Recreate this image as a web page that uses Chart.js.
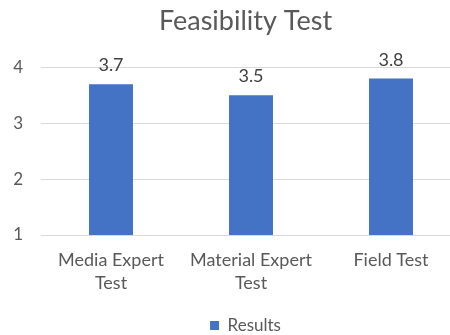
<!DOCTYPE html>
<html lang="en">
<head>
    <meta charset="UTF-8">
    <script src="https://cdn.jsdelivr.net/npm/chart.js@4"></script>
    <title>Feasibility Test</title>
    <style>
        body { margin: 0; background: #fff; }
    </style>
</head>
<body>
    <canvas id="chart" width="450" height="335"></canvas>

    <script>
        // chart data
        const categories = [['Media Expert', 'Test'], ['Material Expert', 'Test'], 'Field Test'];
        const results = [3.7, 3.5, 3.8];
        const yTicks = [1, 2, 3, 4];

        const FONT = "Lato, sans-serif";

        // draws the value above each bar
        const valueLabels = {
            id: 'valueLabels',
            afterDatasetsDraw(chart) {
                const ctx = chart.ctx;
                ctx.save();
                ctx.font = '18px ' + FONT;
                ctx.fillStyle = '#404040';
                ctx.textAlign = 'center';
                ctx.textBaseline = 'alphabetic';
                chart.getDatasetMeta(0).data.forEach((bar, i) => {
                    ctx.fillText(results[i].toFixed(1), bar.x, bar.y - 13);
                });
                ctx.restore();
            }
        };

        // the original picture is cropped: plot runs past the right edge,
        // legend sits right on the bottom edge
        const cropFix = {
            id: 'cropFix',
            afterLayout(chart) {
                const x = chart.scales.x;
                x.right += 11;
                x.width += 11;
                x.configure();
                if (chart.legend) {
                    chart.legend.top += 9;
                    chart.legend.bottom += 9;
                }
            }
        };

        new Chart(document.getElementById('chart'), {
            type: 'bar',
            data: {
                labels: categories,
                datasets: [{
                    label: 'Results',
                    data: results,
                    backgroundColor: '#4472C4',
                    barPercentage: 0.628,
                    categoryPercentage: 0.5
                }]
            },
            options: {
                responsive: false,
                animation: false,
                layout: { padding: { left: 0, right: 0, top: 0, bottom: 0 } },
                plugins: {
                    title: {
                        display: true,
                        fullSize: false,
                        text: 'Feasibility Test',
                        color: '#595959',
                        font: { family: FONT, size: 27, weight: 'normal', lineHeight: 1.2 },
                        padding: { top: 5, bottom: 30 }
                    },
                    legend: {
                        position: 'bottom',
                        fullSize: false,
                        labels: {
                            color: '#595959',
                            font: { family: FONT, size: 17 },
                            boxWidth: 9,
                            boxHeight: 9,
                            padding: 0
                        }
                    },
                    tooltip: { enabled: false }
                },
                scales: {
                    x: {
                        afterFit(scale) {
                            scale.height += 8;
                        },
                        grid: { display: false },
                        border: { display: false },
                        ticks: {
                            color: '#595959',
                            font: { family: FONT, size: 18, lineHeight: 1.25 },
                            padding: 6,
                            maxRotation: 0
                        }
                    },
                    y: {
                        min: 1,
                        max: 4,
                        afterBuildTicks(scale) {
                            scale.ticks = yTicks.map(v => ({ value: v }));
                        },
                        afterFit(scale) {
                            scale.width = 41;
                        },
                        grid: { color: '#D9D9D9', drawTicks: false },
                        border: { display: false },
                        ticks: {
                            color: '#595959',
                            font: { family: FONT, size: 17 },
                            padding: 18
                        }
                    }
                }
            },
            plugins: [valueLabels, cropFix]
        });
    </script>
</body>
</html>
